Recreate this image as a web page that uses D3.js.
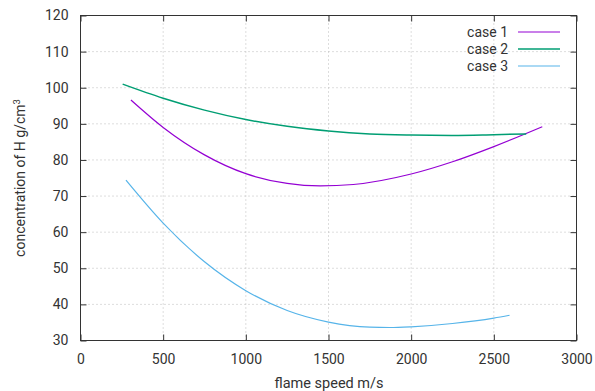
<!DOCTYPE html>
<html>
<head>
<meta charset="utf-8">
<script src="https://cdn.jsdelivr.net/npm/d3@7"></script>
<style>
  body { margin: 0; background: #fff; }
  text { font-family: Roboto, "Noto Sans", sans-serif; fill: #333; }
</style>
</head>
<body>
<div id="chart"></div>
<script>
var case1X = [305, 500, 750, 1000, 1250, 1450, 1650, 2000, 2250, 2500, 2793];
var case1Y = [96.6, 89.0, 81.4, 76.2, 73.5, 72.8, 73.2, 76.1, 79.5, 83.7, 89.2];
var case2X = [255, 500, 750, 1000, 1250, 1500, 1750, 2000, 2250, 2500, 2696];
var case2Y = [101.0, 97.1, 93.8, 91.2, 89.3, 88.0, 87.2, 86.9, 86.8, 87.0, 87.2];
var case3X = [275, 500, 750, 1000, 1250, 1500, 1750, 1870, 2000, 2250, 2500, 2595];
var case3Y = [74.4, 62.5, 51.8, 43.8, 38.3, 35.1, 33.7, 33.6, 33.8, 34.7, 36.2, 37.0];
var xTicks = [0, 500, 1000, 1500, 2000, 2500, 3000];
var yTicks = [30, 40, 50, 60, 70, 80, 90, 100, 110, 120];

var series = [
  { name: "case 1", xs: case1X, ys: case1Y, color: "#9400d3", width: 1.2 },
  { name: "case 2", xs: case2X, ys: case2Y, color: "#009e73", width: 1.5 },
  { name: "case 3", xs: case3X, ys: case3Y, color: "#56b4e9", width: 1.2 }
];

var w = 595, h = 391;
var mLeft = 80.5, mRight = 576.5, mTop = 15.5, mBottom = 340.5;

var x = d3.scaleLinear().domain([0, 3000]).range([mLeft, mRight]);
var y = d3.scaleLinear().domain([30, 120]).range([mBottom, mTop]);

var svg = d3.select("#chart").append("svg").attr("width", w).attr("height", h);

// grid
svg.append("g").selectAll("line")
  .data(xTicks.slice(1, -1))
  .enter().append("line")
  .attr("x1", function (d) { return x(d); })
  .attr("x2", function (d) { return x(d); })
  .attr("y1", mTop).attr("y2", mBottom)
  .style("stroke", "#bbb").style("stroke-dasharray", "1,3").style("stroke-width", 1);
svg.append("g").selectAll("line")
  .data(yTicks.slice(1, -1))
  .enter().append("line")
  .attr("y1", function (d) { return y(d); })
  .attr("y2", function (d) { return y(d); })
  .attr("x1", mLeft).attr("x2", mRight)
  .style("stroke", "#bbb").style("stroke-dasharray", "1,3").style("stroke-width", 1);

// axes: ticks inside
var ax = svg.append("g").attr("transform", "translate(0," + mBottom + ")")
  .call(d3.axisBottom(x).tickValues(xTicks).tickFormat(d3.format("d")).tickSize(-6).tickPadding(14).tickSizeOuter(0));
var axTop = svg.append("g").attr("transform", "translate(0," + mTop + ")")
  .call(d3.axisTop(x).tickValues(xTicks).tickSize(-6).tickFormat("").tickSizeOuter(0));
var ay = svg.append("g").attr("transform", "translate(" + mLeft + ",0)")
  .call(d3.axisLeft(y).tickValues(yTicks).tickSize(-6).tickPadding(12).tickSizeOuter(0));
var ayR = svg.append("g").attr("transform", "translate(" + mRight + ",0)")
  .call(d3.axisRight(y).tickValues(yTicks).tickSize(-6).tickFormat("").tickSizeOuter(0));

[ax, axTop, ay, ayR].forEach(function (g) {
  g.select(".domain").remove();
  g.selectAll(".tick line").style("stroke", "#333");
  g.selectAll("text").style("font-size", "14px").style("fill", "#333");
});

// border
svg.append("rect")
  .attr("x", mLeft).attr("y", mTop)
  .attr("width", mRight - mLeft).attr("height", mBottom - mTop)
  .style("fill", "none").style("stroke", "#333").style("stroke-width", 1);

// lines
var line = d3.line()
  .x(function (d) { return x(d[0]); })
  .y(function (d) { return y(d[1]); })
  .curve(d3.curveMonotoneX);

series.forEach(function (s) {
  var pts = s.xs.map(function (v, i) { return [v, s.ys[i]]; });
  svg.append("path")
    .datum(pts)
    .attr("d", line)
    .style("fill", "none")
    .style("stroke", s.color)
    .style("stroke-width", s.width);
});

// legend
series.forEach(function (s, i) {
  var ly = 32 + i * 17;
  svg.append("text")
    .attr("x", 508).attr("y", ly)
    .attr("dy", "0.35em")
    .attr("text-anchor", "end")
    .style("font-size", "14px")
    .text(s.name);
  svg.append("line")
    .attr("x1", 518).attr("x2", 560)
    .attr("y1", ly).attr("y2", ly)
    .style("stroke", s.color)
    .style("stroke-width", s.width);
});

// axis titles
svg.append("text")
  .attr("x", 329).attr("y", 388)
  .attr("text-anchor", "middle")
  .style("font-size", "14.5px")
  .text("flame speed m/s");

var yl = svg.append("text")
  .attr("transform", "translate(25,178) rotate(-90)")
  .attr("text-anchor", "middle")
  .style("font-size", "14px");
yl.append("tspan").text("concentration of H g/cm");
yl.append("tspan").attr("dy", "-5").style("font-size", "9.5px").text("3");
</script>
</body>
</html>
